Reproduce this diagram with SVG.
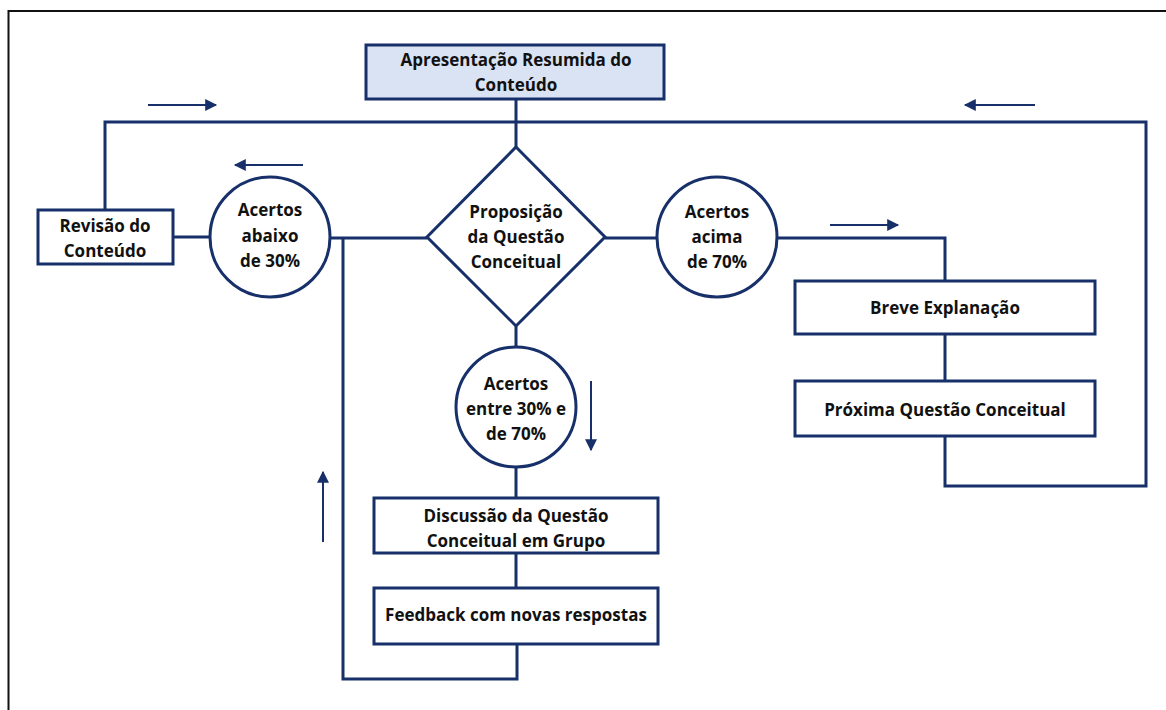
<svg xmlns="http://www.w3.org/2000/svg" width="1166" height="710" viewBox="0 0 1166 710">
<defs>
<marker id="ah" viewBox="0 0 10 10" refX="9" refY="5" markerWidth="6.5" markerHeight="6" orient="auto" markerUnits="strokeWidth">
<path d="M0,0 L10,5 L0,10 z" fill="#17306a"/>
</marker>
<style>
.b{fill:#fff;stroke:#17306a;stroke-width:3}
.hl{fill:#dae3f3;stroke:#17306a;stroke-width:3}
.c{fill:none;stroke:#17306a;stroke-width:3}
.a{fill:none;stroke:#17306a;stroke-width:2;marker-end:url(#ah)}
text{font-family:"Open Sans","Liberation Sans",sans-serif;font-weight:700;font-size:17px;fill:#111;text-anchor:middle}
</style>
</defs>
<rect width="1166" height="710" fill="#fff"/>
<g id="frame" fill="none" stroke="#111" stroke-width="2">
<path d="M1166,11 H8.5 V710"/>
</g>
<g id="connectors">
<path class="c" d="M516,99 V147"/>
<path class="c" d="M105,210 V122 H1146 V486 H945 V436"/>
<path class="c" d="M173,237 H210"/>
<path class="c" d="M331,238 H427"/>
<path class="c" d="M343,238 V679 H517 V644"/>
<path class="c" d="M605,238 H657"/>
<path class="c" d="M777,238 H945 V281"/>
<path class="c" d="M945,334 V381"/>
<path class="c" d="M516,326 V347"/>
<path class="c" d="M516,467 V498"/>
<path class="c" d="M516,553 V588"/>
<path class="a" d="M148,105 H216"/>
<path class="a" d="M1035,105 H965"/>
<path class="a" d="M303,165 H235"/>
<path class="a" d="M830,225 H898"/>
<path class="a" d="M591,381 V450"/>
<path class="a" d="M323,542 V472"/>
</g>
<g id="apresentacao">
<rect class="hl" x="366" y="45" width="298" height="54"/>
<text x="516" y="66">Apresentação Resumida do</text>
<text x="516" y="91">Conteúdo</text>
</g>
<g id="revisao">
<rect class="b" x="38" y="210" width="135" height="54"/>
<text x="105" y="232">Revisão do</text>
<text x="105" y="257">Conteúdo</text>
</g>
<g id="abaixo30">
<circle class="b" cx="270" cy="237" r="60"/>
<text x="270" y="216">Acertos</text>
<text x="270" y="242">abaixo</text>
<text x="270" y="267">de 30%</text>
</g>
<g id="proposicao">
<path class="b" d="M516,147 L605,237 L516,326 L427,237 z"/>
<text x="516" y="218">Proposição</text>
<text x="516" y="243">da Questão</text>
<text x="516" y="268">Conceitual</text>
</g>
<g id="acima70">
<circle class="b" cx="717" cy="237" r="60"/>
<text x="717" y="218">Acertos</text>
<text x="717" y="243">acima</text>
<text x="717" y="268">de 70%</text>
</g>
<g id="breve">
<rect class="b" x="795" y="281" width="300" height="53"/>
<text x="945" y="314">Breve Explanação</text>
</g>
<g id="proxima">
<rect class="b" x="795" y="381" width="300" height="55"/>
<text x="945" y="416">Próxima Questão Conceitual</text>
</g>
<g id="entre">
<circle class="b" cx="516" cy="407" r="60"/>
<text x="516" y="390">Acertos</text>
<text x="516" y="415">entre 30% e</text>
<text x="516" y="440">de 70%</text>
</g>
<g id="discussao">
<rect class="b" x="374" y="498" width="284" height="55"/>
<text x="516" y="522">Discussão da Questão</text>
<text x="516" y="547">Conceitual em Grupo</text>
</g>
<g id="feedback">
<rect class="b" x="374" y="588" width="284" height="56"/>
<text x="516" y="621">Feedback com novas respostas</text>
</g>
</svg>
